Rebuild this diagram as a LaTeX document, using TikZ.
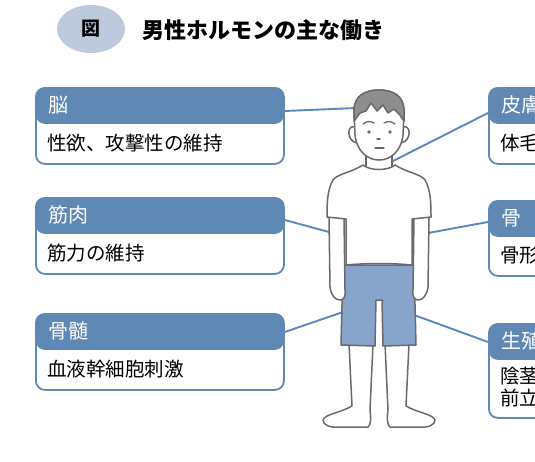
\documentclass[tikz,border=0pt]{standalone}
\usepackage{fontspec}
\setmainfont{Noto Sans CJK JP}
\usepackage{tikz}
\usetikzlibrary{shapes.geometric,positioning}
\definecolor{hdblue}{HTML}{6088B5}
\definecolor{linkblue}{HTML}{5A88BE}
\definecolor{pants}{HTML}{87A5CB}
\definecolor{markfill}{HTML}{BDC9DD}
\definecolor{figgray}{HTML}{6A6A6A}
\definecolor{hair}{HTML}{8E8E8E}
\tikzset{
  box/.style={draw=hdblue, line width=1.8pt, fill=white, rounded corners=9pt,
    anchor=north west, minimum width=248pt, inner sep=0pt,
    path picture={\fill[hdblue] (path picture bounding box.north west)
      rectangle ([yshift=-36pt]path picture bounding box.north east);}},
  hdtext/.style={anchor=west, inner sep=0pt, text=white, font=\fontsize{20}{22}\selectfont},
  bdtext/.style={anchor=west, inner sep=0pt, text=black, align=left,
    font=\fontsize{19.5}{22}\selectfont},
  link/.style={draw=linkblue, line width=1.9pt},
  skin/.style={draw=figgray, fill=white, line width=1.5pt, line join=round},
  cloth/.style={draw=figgray, fill=pants, line width=1.5pt, line join=round},
  hairdo/.style={draw=figgray, fill=hair, line width=1.5pt, line join=round},
  feat/.style={draw=figgray, line width=1.3pt, line cap=round}
}

\begin{document}
\begin{tikzpicture}[x=1pt, y=-1pt]
  \useasboundingbox (0,0) rectangle (535,461);
  \clip (0,0) rectangle (535,461);

  % title
  \node[ellipse, fill=markfill, minimum width=68pt, minimum height=48pt, inner sep=0pt,
    font=\fontsize{19}{22}\selectfont\bfseries] (mark) at (91,29) {図};
  \node[anchor=west, inner sep=0pt, font=\fontsize{22}{24}\selectfont\bfseries]
    (title) at (142,30) {男性ホルモンの主な働き};

  % left boxes
  \node[box, minimum height=76pt] (brain) at (35,87) {};
  \node[hdtext] (brainhd) at (48,105) {脳};
  \node[bdtext] (brainbd) at (47,143) {性欲、攻撃性の維持};

  \node[box, minimum height=76pt] (muscle) at (35,197) {};
  \node[hdtext] (musclehd) at (48,215) {筋肉};
  \node[bdtext] (musclebd) at (47,253) {筋力の維持};

  \node[box, minimum height=76pt] (marrow) at (35,313) {};
  \node[hdtext] (marrowhd) at (48,331) {骨髄};
  \node[bdtext] (marrowbd) at (47,369) {血液幹細胞刺激};

  % right boxes
  \node[box, minimum height=76pt] (skin) at (488,87) {};
  \node[hdtext] (skinhd) at (501,105) {皮膚};
  \node[bdtext] (skinbd) at (500,143) {体毛};

  \node[box, minimum height=75pt] (bone) at (488,200) {};
  \node[hdtext] (bonehd) at (501,218) {骨};
  \node[bdtext] (bonebd) at (500,255) {骨形成};

  \node[box, minimum height=94pt] (genital) at (488,323) {};
  \node[hdtext] (genitalhd) at (501,341) {生殖};
  \node[bdtext] (genitalbd) at (500,387) {陰茎\\前立};

  % points on the figure
  \coordinate (headL) at (356,108);
  \coordinate (neckR) at (391,162);
  \coordinate (armL) at (329,232);
  \coordinate (armR) at (428,233);
  \coordinate (thighL) at (343,312);
  \coordinate (hipR) at (414,315);

  \draw[link] ([yshift=-24pt]brain.north east) -- (headL);
  \draw[link] ([yshift=-23pt]muscle.north east) -- (armL);
  \draw[link] ([yshift=-19pt]marrow.north east) -- (thighL);
  \draw[link] (neckR) -- ([yshift=-26pt]skin.north west);
  \draw[link] (armR) -- ([yshift=-22pt]bone.north west);
  \draw[link] (hipR) -- ([yshift=-19pt]genital.north west);

  % legs
  \draw[skin] (349,344) -- (352,406) .. controls (340,413) and (325,414) .. (323,420)
    .. controls (323,425) and (330,428) .. (340,427) -- (368,427)
    .. controls (371,425) and (371,418) .. (370,410) -- (373,344);
  \draw[skin] (409,344) -- (406,406) .. controls (418,413) and (433,414) .. (435,420)
    .. controls (435,425) and (428,428) .. (418,427) -- (390,427)
    .. controls (387,425) and (387,418) .. (388,410) -- (385,344);

  % shorts
  \draw[cloth] (343,265) -- (341,345) -- (375,346) -- (376,300) -- (382,300)
    -- (383,346) -- (416,345) -- (414,265) -- cycle;

  % arms
  \draw[skin] (329,218) -- (330,287) .. controls (331,295) and (335,300) .. (340,300)
    .. controls (344,300) and (346,296) .. (345,290) -- (344,218);
  \draw[skin] (429,218) -- (428,287) .. controls (427,295) and (423,300) .. (418,300)
    .. controls (414,300) and (412,296) .. (413,290) -- (414,218);

  % neck and shirt
  \draw[skin] (366,150) -- (366,174) -- (392,174) -- (392,150);
  \draw[skin] (363,165) .. controls (350,173) and (337,174) .. (333,180)
    .. controls (327,190) and (327,205) .. (327,217) -- (346,219) -- (346,265)
    .. controls (368,263) and (390,263) .. (412,265) -- (412,219) -- (431,217)
    .. controls (431,205) and (431,190) .. (425,180)
    .. controls (421,174) and (408,173) .. (395,165)
    .. controls (388,171) and (370,171) .. cycle;

  % head
  \draw[skin] (355,127) .. controls (347,124) and (346,141) .. (357,143);
  \draw[skin] (403,127) .. controls (411,124) and (412,141) .. (401,143);
  \draw[skin] (354,112) -- (355,135) .. controls (357,152) and (368,160) .. (379,160)
    .. controls (390,160) and (401,152) .. (403,135) -- (404,112)
    .. controls (404,96) and (393,90) .. (379,90)
    .. controls (365,90) and (354,96) .. cycle;
  \draw[hairdo] (354,121) -- (354,110) .. controls (354,96) and (365,90) .. (379,90)
    .. controls (393,90) and (404,96) .. (404,110) -- (404,121) -- (399,114)
    -- (394,109) -- (388,113) -- (383,105) -- (377,111) -- (371,103) -- (366,111)
    -- (360,113) -- cycle;

  % face
  \fill[figgray] (369,132) circle (1.9);
  \fill[figgray] (390,132) circle (1.9);
  \draw[feat] (363,124) .. controls (366,121) and (371,121) .. (374,123);
  \draw[feat] (384,123) .. controls (387,121) and (392,121) .. (395,124);
  \draw[feat] (377,139) -- (380,139);
  \draw[feat] (375,148) -- (384,148);
\end{tikzpicture}
\end{document}
